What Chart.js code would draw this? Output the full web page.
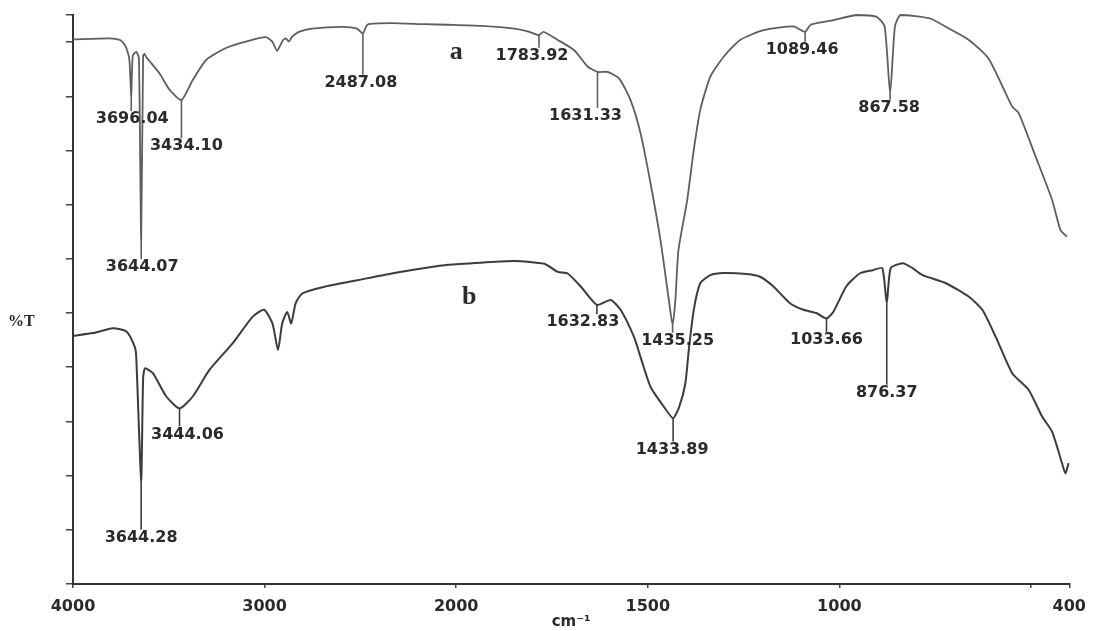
<!DOCTYPE html>
<html>
<head>
<meta charset="utf-8">
<title>FTIR spectra a and b</title>
<script src="https://cdn.jsdelivr.net/npm/chart.js@4.4.1/dist/chart.umd.min.js"></script>
<style>
  html, body { margin: 0; padding: 0; background: #fff; }
  #ftir { display: block; }
</style>
</head>
<body>
<canvas id="ftir" width="1095" height="631"></canvas>
<script>
// spectrum a (wavenumber in cm-1, %T)
var wavenumbersA = [4000, 3808, 3756, 3730, 3715, 3705, 3696.04, 3688, 3670, 3656, 3644.07, 3634, 3626, 3617,
  3548, 3496, 3434.10, 3375, 3305, 3202, 3098, 2994, 2960, 2935, 2905, 2890, 2873, 2856, 2821, 2752,
  2596, 2518, 2487.08, 2470, 2457, 2336, 2163, 2042, 1935, 1848, 1809, 1783.92, 1772, 1735, 1692,
  1657, 1631.33, 1605, 1575, 1545, 1519, 1493, 1467, 1445, 1435.25, 1428, 1420, 1397, 1380, 1363,
  1337, 1302, 1259, 1198, 1120, 1089.46, 1075, 1025, 956, 904, 882, 867.58, 855, 840, 765, 714,
  662, 610, 549, 532, 488, 445, 423, 406];
var transmittanceA = [100.5, 100.7, 100.4, 99.5, 98.2, 96.5, 90.2, 97.5, 98.2, 97.0, 63.5, 97.5, 97.8, 97.2,
  94.2, 91.2, 89.3, 93.0, 96.7, 98.9, 100.1, 100.9, 100.1, 98.4, 100.3, 100.7, 100.1, 101.0, 101.9, 102.5,
  102.8, 102.5, 101.6, 102.9, 103.3, 103.5, 103.3, 103.2, 103.0, 102.5, 101.9, 101.3, 101.9, 100.4, 98.5,
  95.5, 94.5, 94.5, 93.3, 89.3, 83.2, 74.0, 63.5, 52.4, 47.8, 52.4, 61.6, 70.9, 80.1, 87.5,
  93.6, 97.3, 100.4, 102.2, 102.9, 101.9, 103.2, 103.9, 105.0, 104.7, 102.9, 90.6, 102.9, 105.0, 104.4, 102.5,
  100.4, 96.9, 88.1, 86.9, 78.9, 70.9, 65.3, 64.1];

// spectrum b
var wavenumbersB = [4000, 3895, 3791, 3721, 3678, 3670, 3644.28, 3634, 3624, 3583, 3513, 3444.06, 3375, 3288,
  3167, 3063, 3003, 2959, 2930, 2908, 2882, 2861, 2838, 2804, 2682, 2509, 2336, 2163, 2042, 1935,
  1848, 1770, 1735, 1709, 1675, 1632.83, 1597, 1571, 1536, 1519, 1493, 1458, 1433.89, 1418, 1402,
  1393, 1380, 1363, 1337, 1302, 1242, 1207, 1172, 1129, 1094, 1060, 1033.66, 1016, 982, 947, 913,
  888, 876.37, 866, 835, 809, 783, 722, 662, 627, 592, 549, 506, 471, 445, 419, 410, 402];
var transmittanceB = [45.8, 46.3, 47.2, 46.6, 43.8, 42.0, 19.2, 38.0, 39.8, 38.9, 34.6, 32.4, 34.6, 39.5,
  44.4, 49.3, 50.6, 48.1, 43.2, 48.1, 50.2, 48.1, 51.8, 53.6, 54.9, 56.1, 57.3, 58.3, 58.9, 59.3,
  59.6, 59.1, 57.6, 57.3, 54.9, 51.5, 52.4, 50.6, 45.6, 41.9, 36.4, 32.7, 30.6, 32.7, 37.0,
  43.2, 50.6, 55.5, 57.0, 57.4, 57.2, 56.7, 54.9, 51.8, 50.6, 50.0, 49.0, 50.2, 54.9, 57.3, 57.9,
  58.3, 51.8, 58.3, 59.2, 58.3, 57.0, 55.5, 53.0, 50.6, 45.6, 38.9, 35.8, 30.9, 28.1, 22.3, 20.4, 22.3];

// labelled bands
var peaksA = [3696.04, 3644.07, 3434.10, 2487.08, 1783.92, 1631.33, 1435.25, 1089.46, 867.58];
var peaksB = [3644.28, 3444.06, 1632.83, 1433.89, 1033.66, 876.37];

// label placement: level in %T units, sideways nudge in px
var labelLevelA = [85.8, 58.5, 80.8, 92.5, 97.5, 86.4, 44.9, 98.6, 87.9];
var labelShiftA = [1, 1, 5, -2, -7, -12, 5, -3, -1];
var labelLevelB = [8.6, 27.6, 48.3, 24.8, 45.0, 35.3];
var labelShiftB = [0, 8, -14, -1, 0, 0];

var xTickValues = [4000, 3000, 2000, 1500, 1000, 500, 400];
var xTickLabels = ['4000', '3000', '2000', '1500', '1000', '', '400'];
var yTickValues = [0, 10, 20, 30, 40, 50, 60, 70, 80, 90, 100, 105];

var lineColorA = '#5e5e5e';
var lineColorB = '#3c3c3c';
var textColor = '#2a2a2a';

// x axis: 4000-2000 squeezed to half the stretch of 2000-400
function wnToDecimal(wn) {
	var u = wn >= 2000 ? 4000 - wn : 2000 + 2 * (2000 - wn);
	return u / 5200;
}

function decimalToWn(d) {
	var u = d * 5200;
	return u <= 2000 ? 4000 - u : 2000 - (u - 2000) / 2;
}

class WavenumberScale extends Chart.LinearScale {
	getPixelForValue(value) {
		if (value === null || value === undefined) return NaN;
		return this.getPixelForDecimal(wnToDecimal(value));
	}
	getValueForPixel(pixel) {
		return decimalToWn(this.getDecimalForPixel(pixel));
	}
}
WavenumberScale.id = 'wavenumber';
WavenumberScale.defaults = Chart.LinearScale.defaults;
Chart.register(WavenumberScale);

function toPoints(xs, ys) {
	var pts = [];
	for (var i = 0; i < xs.length; i++) {
		pts.push({ x: xs[i], y: ys[i] });
	}
	return pts;
}

// leader line from each band down to its wavenumber label
function drawBands(c, xs, ys, peaks, wns, values, levels, shifts, color) {
	for (var i = 0; i < peaks.length; i++) {
		var idx = wns.indexOf(peaks[i]);
		var px = xs.getPixelForValue(peaks[i]);
		var top = ys.getPixelForValue(values[idx]);
		var ly = ys.getPixelForValue(levels[i]);

		c.strokeStyle = color;
		c.lineWidth = 1.6;
		c.beginPath();
		c.moveTo(px, top);
		c.lineTo(px, ly - 8);
		c.stroke();

		c.fillStyle = textColor;
		c.fillText(peaks[i].toFixed(2), px + shifts[i], ly);
	}
}

var bandLabels = {
	id: 'bandLabels',
	afterDatasetsDraw: function (chart) {
		var xs = chart.scales.x;
		var ys = chart.scales.y;
		var c = chart.ctx;

		c.save();
		c.textAlign = 'center';
		c.textBaseline = 'middle';
		c.font = 'bold 16px "DejaVu Sans"';
		drawBands(c, xs, ys, peaksA, wavenumbersA, transmittanceA, labelLevelA, labelShiftA, lineColorA);
		drawBands(c, xs, ys, peaksB, wavenumbersB, transmittanceB, labelLevelB, labelShiftB, lineColorB);

		// spectrum letters
		c.fillStyle = textColor;
		c.font = 'bold 26px "Liberation Serif"';
		c.fillText('a', xs.getPixelForValue(2000), ys.getPixelForValue(98.2));
		c.fillText('b', xs.getPixelForValue(1966), ys.getPixelForValue(53));

		// y axis name, written flat
		c.font = 'bold 16px "Liberation Serif"';
		c.textAlign = 'left';
		c.fillText('%T', 8, ys.getPixelForValue(48.3));
		c.restore();
	}
};

var ctx = document.getElementById('ftir');
var chart = new Chart(ctx, {
	type: 'line',
	data: {
		datasets: [
			{
				label: 'a',
				data: toPoints(wavenumbersA, transmittanceA),
				borderColor: lineColorA,
				borderWidth: 1.8,
				pointRadius: 0,
				tension: 0.2,
				fill: false,
				clip: false
			},
			{
				label: 'b',
				data: toPoints(wavenumbersB, transmittanceB),
				borderColor: lineColorB,
				borderWidth: 2,
				pointRadius: 0,
				tension: 0.2,
				fill: false,
				clip: false
			}
		]
	},
	options: {
		responsive: false,
		animation: false,
		layout: { padding: { top: 15, right: 21, left: 0, bottom: 0 } },
		plugins: {
			legend: { display: false },
			tooltip: { enabled: false }
		},
		scales: {
			x: {
				type: 'wavenumber',
				min: 400,
				max: 4000,
				afterBuildTicks: function (scale) {
					scale.ticks = xTickValues.map(function (v) { return { value: v }; });
				},
				afterFit: function (scale) { scale.height = 47; },
				grid: { drawOnChartArea: false, drawTicks: true, tickLength: 4, color: '#444', lineWidth: 1.5 },
				border: { display: true, color: '#333', width: 2 },
				ticks: {
					autoSkip: false,
					maxRotation: 0,
					padding: 9,
					color: textColor,
					font: { family: 'DejaVu Sans', size: 16, weight: 'bold' },
					callback: function (value, i) { return xTickLabels[i]; }
				},
				title: {
					display: true,
					text: 'cm⁻¹',
					color: textColor,
					font: { family: 'DejaVu Sans', size: 15, weight: 'bold' },
					padding: 0
				}
			},
			y: {
				min: 0,
				max: 105,
				afterBuildTicks: function (scale) {
					scale.ticks = yTickValues.map(function (v) { return { value: v }; });
				},
				afterFit: function (scale) { scale.width = 73; },
				grid: { drawOnChartArea: false, drawTicks: true, tickLength: 7, color: '#444', lineWidth: 1.5 },
				border: { display: true, color: '#333', width: 2 },
				ticks: { display: false }
			}
		}
	},
	plugins: [bandLabels]
});
</script>
</body>
</html>
